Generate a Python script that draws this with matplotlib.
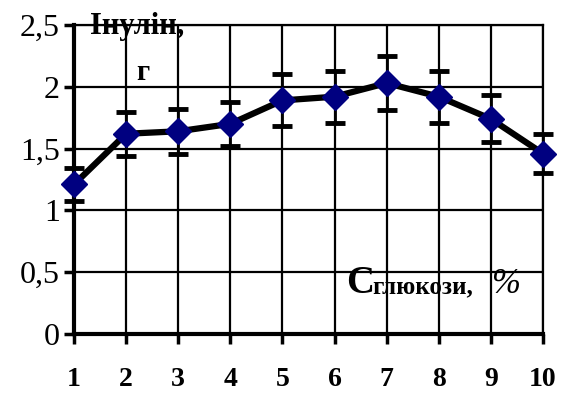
import numpy as np
import matplotlib.pyplot as plt

plt.rcParams['font.family'] = ['Liberation Serif', 'DejaVu Serif']

# glucose concentration, %
conc = [1, 2, 3, 4, 5, 6, 7, 8, 9, 10]
# inulin yield, g
inulin = [1.21, 1.62, 1.64, 1.70, 1.89, 1.92, 2.03, 1.92, 1.74, 1.46]
inulin_err = [0.13, 0.18, 0.18, 0.18, 0.21, 0.21, 0.22, 0.21, 0.19, 0.16]
yticks = [0, 0.5, 1, 1.5, 2, 2.5]
ytick_labels = ['0', '0,5', '1', '1,5', '2', '2,5']

W, H = 563, 394
fig = plt.figure(figsize=(W / 100, H / 100), dpi=100)
ax = fig.add_axes([74 / W, 1 - 334 / H, (543 - 74) / W, (334 - 25) / H])

ax.errorbar(conc, inulin, yerr=inulin_err, fmt='none', ecolor='black',
            elinewidth=2, capsize=7, capthick=3.5, zorder=3, clip_on=False)
ax.plot(conc, inulin, color='black', lw=4.5, zorder=4, clip_on=False)
ax.plot(conc, inulin, 'D', color='#000080', ms=13.5, mec='#000080',
        zorder=5, clip_on=False)

ax.set_xlim(1, 10)
ax.set_ylim(0, 2.5)
ax.set_xticks(conc)
ax.set_xticklabels([str(c) for c in conc], fontsize=20, fontweight='bold')
ax.set_yticks(yticks)
ax.set_yticklabels(ytick_labels, fontsize=23)
ax.grid(True, color='black', lw=1.6, zorder=1)
ax.set_axisbelow(True)

for side in ['top', 'right']:
    ax.spines[side].set_linewidth(1.6)
for side in ['left', 'bottom']:
    ax.spines[side].set_linewidth(3)
ax.tick_params(axis='y', direction='out', length=7, width=2.5, pad=3)
ax.tick_params(axis='x', direction='out', length=7, width=2.5, pad=17)

def put(x, y, s, **kw):
    fig.text(x / W, 1 - y / H, s, va='baseline', ha='left', **kw)

put(90, 34, 'Інулін,', fontsize=22, fontweight='bold')
put(136, 80, 'г', fontsize=21, fontweight='bold')
put(346, 293, 'С', fontsize=28, fontweight='bold')
put(372, 293, 'глюкози,', fontsize=18, fontweight='bold')
put(491, 293, '%', fontsize=25, style='italic')

fig.savefig('out.png', dpi=100)
